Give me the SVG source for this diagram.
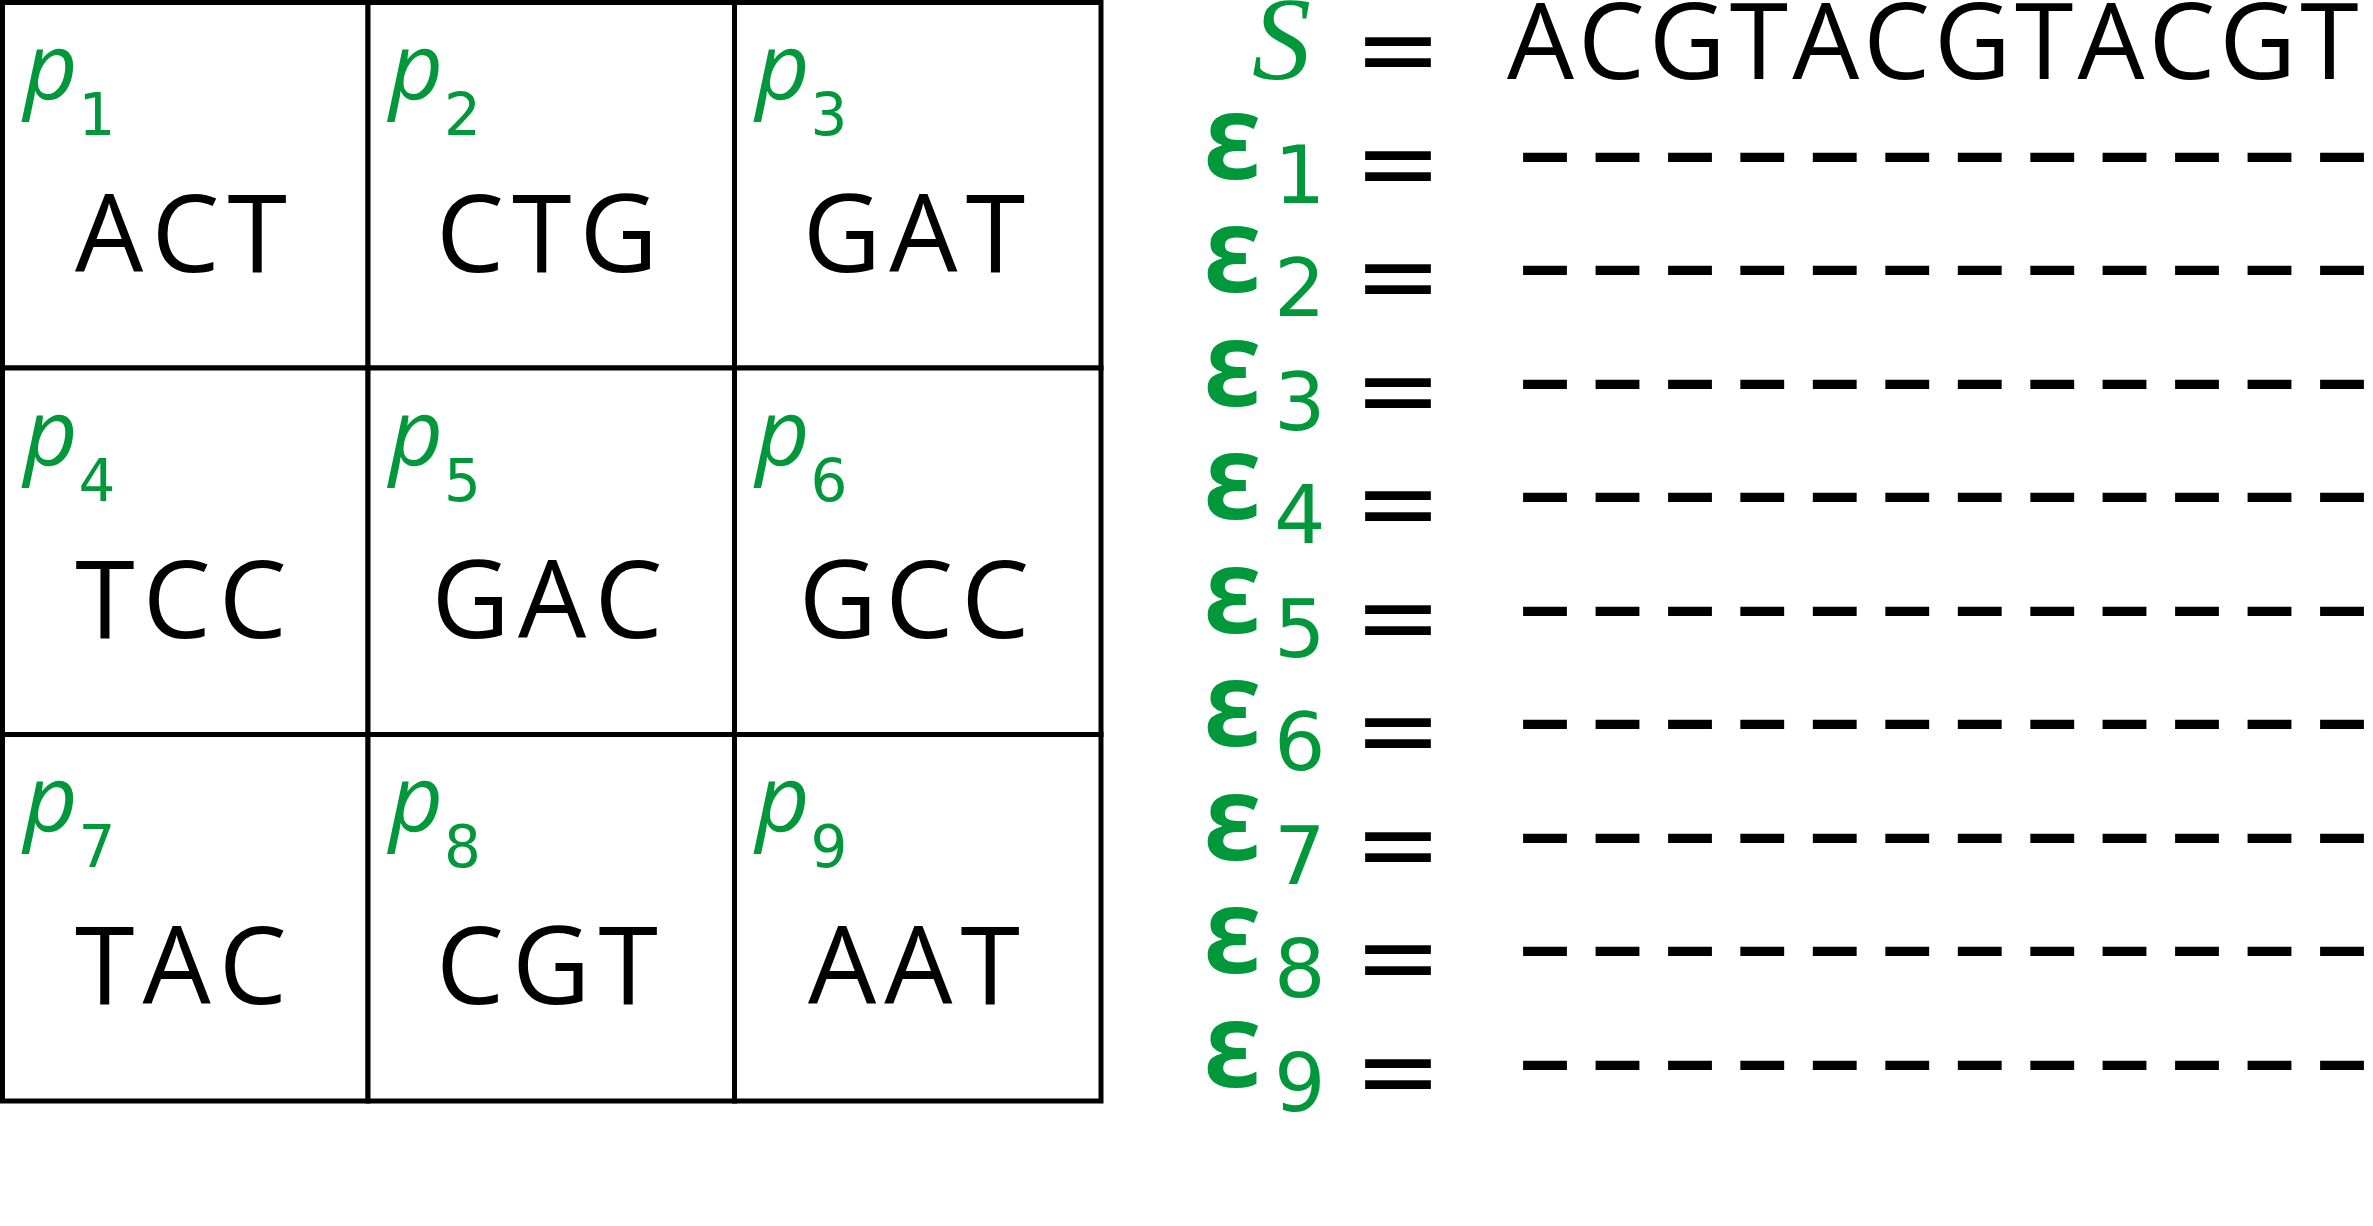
<svg xmlns="http://www.w3.org/2000/svg" width="2373" height="1226" viewBox="0 0 2373 1226">
<style>
.cell{fill:#fff;stroke:#000;stroke-width:5}
.seq{font-family:"Open Sans","Noto Sans",sans-serif;font-size:106px;fill:#000}
.ct{font-family:"Open Sans","Noto Sans",sans-serif;font-size:108px;fill:#000;text-anchor:middle;letter-spacing:8px}
.p{font-family:"Open Sans","Noto Sans",sans-serif;font-style:italic;font-size:94px;fill:#00983a}
.ps{font-family:"DejaVu Sans",sans-serif;font-size:58px;fill:#00983a}
.eps{font-family:"Noto Sans",sans-serif;font-weight:600;font-size:120px;fill:#00983a}
.es{font-family:"DejaVu Sans",sans-serif;font-size:81px;fill:#00983a}
.S{font-family:"Liberation Serif",serif;font-style:italic;font-size:118px;fill:#00983a}
.eq{font-family:"DejaVu Sans",sans-serif;font-size:105px;fill:#000}
.gap{font-family:"DejaVu Sans",sans-serif;font-size:104px;fill:#000;stroke:#000;stroke-width:2;letter-spacing:20.45px}
</style>
<rect width="2373" height="1226" fill="#fff"/>
<g id="grid">
<g id="cell-p1"><rect class="cell" x="2.5" y="2.5" width="365.5" height="365.5"/><text class="p" x="23.5" y="100">p</text><text class="ps" x="78.5" y="135">1</text><text class="ct" x="185" y="272">ACT</text></g>
<g id="cell-p2"><rect class="cell" x="368" y="2.5" width="366.5" height="365.5"/><text class="p" x="389" y="100">p</text><text class="ps" x="444" y="135">2</text><text class="ct" x="551" y="272">CTG</text></g>
<g id="cell-p3"><rect class="cell" x="734.5" y="2.5" width="366.5" height="365.5"/><text class="p" x="755.5" y="100">p</text><text class="ps" x="810.5" y="135">3</text><text class="ct" x="918" y="272">GAT</text></g>
<g id="cell-p4"><rect class="cell" x="2.5" y="368" width="365.5" height="366.5"/><text class="p" x="23.5" y="466">p</text><text class="ps" x="78.5" y="501">4</text><text class="ct" x="185" y="638">TCC</text></g>
<g id="cell-p5"><rect class="cell" x="368" y="368" width="366.5" height="366.5"/><text class="p" x="389" y="466">p</text><text class="ps" x="444" y="501">5</text><text class="ct" x="551" y="638">GAC</text></g>
<g id="cell-p6"><rect class="cell" x="734.5" y="368" width="366.5" height="366.5"/><text class="p" x="755.5" y="466">p</text><text class="ps" x="810.5" y="501">6</text><text class="ct" x="918" y="638">GCC</text></g>
<g id="cell-p7"><rect class="cell" x="2.5" y="734.5" width="365.5" height="366.5"/><text class="p" x="23.5" y="832">p</text><text class="ps" x="78.5" y="867">7</text><text class="ct" x="185" y="1004">TAC</text></g>
<g id="cell-p8"><rect class="cell" x="368" y="734.5" width="366.5" height="366.5"/><text class="p" x="389" y="832">p</text><text class="ps" x="444" y="867">8</text><text class="ct" x="551" y="1004">CGT</text></g>
<g id="cell-p9"><rect class="cell" x="734.5" y="734.5" width="366.5" height="366.5"/><text class="p" x="755.5" y="832">p</text><text class="ps" x="810.5" y="867">9</text><text class="ct" x="918" y="1004">AAT</text></g>
</g>
<g id="connectors"></g>
<g id="row-S"><text class="S" x="1252" y="79">S</text><text class="eq" x="1354" y="85">=</text><text class="seq" x="1507" y="79" letter-spacing="4">ACGTACGTACGT</text></g>
<g id="row-e1" transform="translate(0,113.5)"><text class="eps" x="1203" y="65">ε</text><text class="es" x="1274" y="89">1</text><text class="eq" x="1354" y="85">=</text><text class="gap" x="1519" y="72">––––––––––––</text></g>
<g id="row-e2" transform="translate(0,227)"><text class="eps" x="1203" y="65">ε</text><text class="es" x="1274" y="89">2</text><text class="eq" x="1354" y="85">=</text><text class="gap" x="1519" y="72">––––––––––––</text></g>
<g id="row-e3" transform="translate(0,340.5)"><text class="eps" x="1203" y="65">ε</text><text class="es" x="1274" y="89">3</text><text class="eq" x="1354" y="85">=</text><text class="gap" x="1519" y="72">––––––––––––</text></g>
<g id="row-e4" transform="translate(0,454)"><text class="eps" x="1203" y="65">ε</text><text class="es" x="1274" y="89">4</text><text class="eq" x="1354" y="85">=</text><text class="gap" x="1519" y="72">––––––––––––</text></g>
<g id="row-e5" transform="translate(0,567.5)"><text class="eps" x="1203" y="65">ε</text><text class="es" x="1274" y="89">5</text><text class="eq" x="1354" y="85">=</text><text class="gap" x="1519" y="72">––––––––––––</text></g>
<g id="row-e6" transform="translate(0,681)"><text class="eps" x="1203" y="65">ε</text><text class="es" x="1274" y="89">6</text><text class="eq" x="1354" y="85">=</text><text class="gap" x="1519" y="72">––––––––––––</text></g>
<g id="row-e7" transform="translate(0,794.5)"><text class="eps" x="1203" y="65">ε</text><text class="es" x="1274" y="89">7</text><text class="eq" x="1354" y="85">=</text><text class="gap" x="1519" y="72">––––––––––––</text></g>
<g id="row-e8" transform="translate(0,908)"><text class="eps" x="1203" y="65">ε</text><text class="es" x="1274" y="89">8</text><text class="eq" x="1354" y="85">=</text><text class="gap" x="1519" y="72">––––––––––––</text></g>
<g id="row-e9" transform="translate(0,1021.5)"><text class="eps" x="1203" y="65">ε</text><text class="es" x="1274" y="89">9</text><text class="eq" x="1354" y="85">=</text><text class="gap" x="1519" y="72">––––––––––––</text></g>
</svg>
